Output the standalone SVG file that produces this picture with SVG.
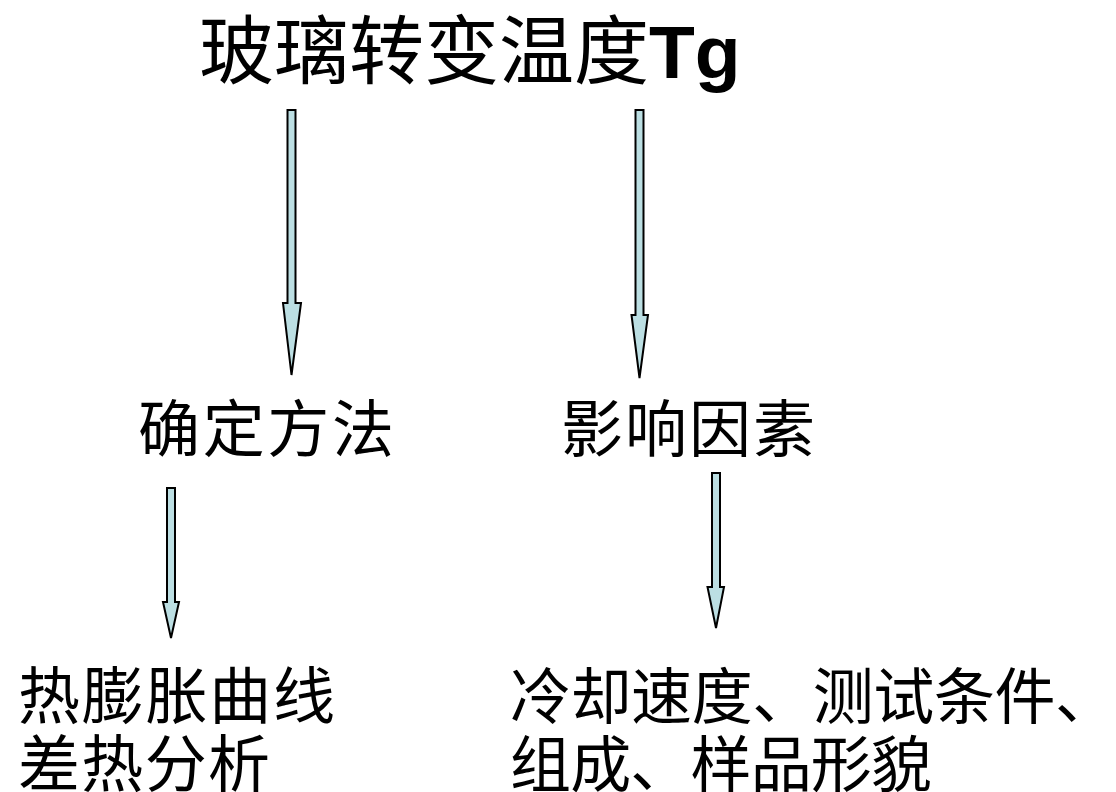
<svg xmlns="http://www.w3.org/2000/svg" width="1116" height="792" viewBox="0 0 1116 792">
<style>
.arrow{fill:#BCDFE3;stroke:#000;stroke-width:2;stroke-linejoin:miter}
.cn{font-family:"Noto Sans CJK SC","Noto Sans",sans-serif;fill:#000}
.lat{font-family:"Liberation Sans",Arial,sans-serif;font-weight:bold;fill:#000}
</style>
<rect width="1116" height="792" fill="#fff"/>
<g id="title">
<text x="199" y="78" font-size="75"><tspan class="cn">玻璃转变温度</tspan><tspan class="lat">Tg</tspan></text>
</g>
<g id="method">
<text class="cn" x="138" y="452" font-size="62" textLength="256" lengthAdjust="spacing">确定方法</text>
</g>
<g id="factors">
<text class="cn" x="561" y="452" font-size="62" textLength="254" lengthAdjust="spacing">影响因素</text>
</g>
<g id="method-detail">
<text class="cn" x="18" y="719" font-size="62" textLength="317" lengthAdjust="spacing">热膨胀曲线</text>
<text class="cn" x="18" y="787" font-size="62" textLength="252" lengthAdjust="spacing">差热分析</text>
</g>
<g id="factor-detail">
<text class="cn" x="510" y="719" font-size="61" textLength="606" lengthAdjust="spacing">冷却速度、测试条件、</text>
<text class="cn" x="510" y="787" font-size="61" textLength="422" lengthAdjust="spacing">组成、样品形貌</text>
</g>
<g id="connectors">
<polygon class="arrow" points="287.5,110 295.5,110 295.5,303 301,303 291.5,375 283,303 287.5,303"/>
<polygon class="arrow" points="635.5,110 643.5,110 643.5,315 648,315 639.5,378 631.5,315 635.5,315"/>
<polygon class="arrow" points="167,488 175,488 175,602 179,602 171,638 163,602 167,602"/>
<polygon class="arrow" points="712,473 720,473 720,587 724,587 716,628 707.5,587 712,587"/>
</g>
</svg>
